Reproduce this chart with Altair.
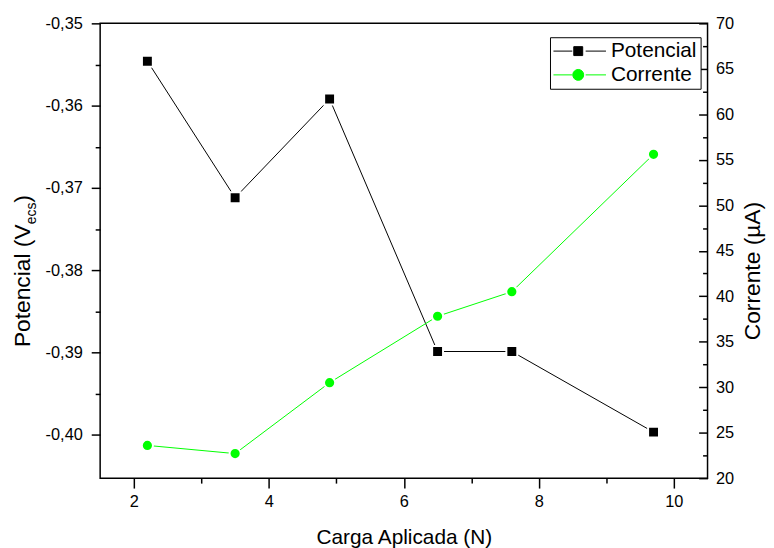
import altair as alt
import pandas as pd

# ---------------- data ----------------
carga = [2.2, 3.5, 4.9, 6.5, 7.6, 9.7]
potencial = [-0.3546, -0.3712, -0.3592, -0.3899, -0.3899, -0.3997]
corrente = [23.6, 22.7, 30.5, 37.8, 40.5, 55.6]

series = ["Potencial", "Corrente"]
series_colors = ["#000000", "#00ff00"]

x_ticks = [2, 4, 6, 8, 10]
x_minor = [3, 5, 7, 9]
pot_ticks = [-0.35, -0.36, -0.37, -0.38, -0.39, -0.40]
pot_minor = [-0.355, -0.365, -0.375, -0.385, -0.395]
cor_ticks = [20, 25, 30, 35, 40, 45, 50, 55, 60, 65, 70]
cor_minor = [22.5, 27.5, 32.5, 37.5, 42.5, 47.5, 52.5, 57.5, 62.5, 67.5]

x_title = "Carga Aplicada (N)"
left_title = ["Potencial (V", "ecs", ")"]
right_title = ["Corrente (µA)"]

# ---------------- layout ----------------
FONT = "Liberation Sans"
PW, PH = 613, 459
LEGEND_PATHS = [
    "M-1.05,0H0.85M2.2,0H4.25M1,-0.45H1.9V0.45H1Z",
    "M-1.05,0H0.85M2.2,0H4.25M0.9,0A0.55,0.55,0,1,0,2.0,0A0.55,0.55,0,1,0,0.9,0Z",
]

df = pd.DataFrame({"carga": carga, "potencial": potencial, "corrente": corrente})
base = alt.Chart(df)

x_scale = alt.Scale(domain=[1.5, 10.5], nice=False, zero=False)
yl_scale = alt.Scale(domain=[-0.4053, -0.35], nice=False, zero=False)
yr_scale = alt.Scale(domain=[20, 70], nice=False, zero=False)

AX = dict(grid=False, domain=False, labelFont=FONT, labelFontSize=16.5, labelColor="black",
          tickColor="black", tickWidth=1.5)

x_major = alt.X("carga:Q", scale=x_scale, axis=alt.Axis(
    orient="bottom", values=x_ticks, format="d", tickSize=10, labelPadding=6,
    title=x_title, titleFontSize=21, titlePadding=16, titleFont=FONT,
    titleFontWeight="normal", titleColor="black", **AX))
x_min = alt.X("carga:Q", scale=x_scale, axis=alt.Axis(
    orient="bottom", values=x_minor, tickSize=5, labels=False, title=None, **AX))
x_none = alt.X("carga:Q", scale=x_scale, axis=None)

yl_major = alt.Y("potencial:Q", scale=yl_scale, axis=alt.Axis(
    orient="left", values=pot_ticks, tickSize=9, labelPadding=9, title=None,
    labelExpr="'-' + replace(format(abs(datum.value), '.2f'), '.', ',')", **AX))
yl_min = alt.Y("potencial:Q", scale=yl_scale, axis=alt.Axis(
    orient="left", values=pot_minor, tickSize=5, labels=False, title=None, **AX))

yr_labels = alt.Y("corrente:Q", scale=yr_scale, axis=alt.Axis(
    orient="right", values=cor_ticks, format="d", ticks=False, labelPadding=8, title=None, **AX))
yr_major = alt.Y("corrente:Q", scale=yr_scale, axis=alt.Axis(
    orient="left", offset=-PW, values=cor_ticks, tickSize=9, labels=False, title=None, **AX))
yr_min = alt.Y("corrente:Q", scale=yr_scale, axis=alt.Axis(
    orient="left", offset=-PW, values=cor_minor, tickSize=5, labels=False, title=None, **AX))

pot_line = base.mark_line(color="black", strokeWidth=1).encode(x=x_major, y=yl_major)
pot_pts = base.mark_point(shape="square", filled=True, fill="black", stroke="white",
                          strokeWidth=2, size=121, opacity=1).encode(x=x_min, y=yl_min)

leg = alt.Legend(orient="none", legendX=454, legendY=14, title=None, direction="vertical",
                 symbolSize=400, symbolStrokeWidth=1, symbolOpacity=1,
                 labelFontSize=21, labelFont=FONT, labelColor="black", labelOffset=37,
                 labelLimit=400, padding=3.5, rowPadding=2, strokeColor="black",
                 fillColor="white", zindex=1)
leg_df = pd.DataFrame({"serie": series})
legend_layer = alt.Chart(leg_df).transform_filter("false").mark_point(
    size=400, opacity=1, strokeWidth=1, filled=True).encode(
    fill=alt.Fill("serie:N", scale=alt.Scale(domain=series, range=series_colors), legend=leg),
    stroke=alt.Stroke("serie:N", scale=alt.Scale(domain=series, range=series_colors), legend=leg),
    shape=alt.Shape("serie:N", scale=alt.Scale(domain=series, range=LEGEND_PATHS), legend=leg),
)

def text_piece(txt, x, y, size, align="left"):
    return alt.Chart(pd.DataFrame({"t": [txt]})).mark_text(
        font=FONT, fontSize=size, angle=270, align=align, baseline="alphabetic",
        color="black").encode(text="t:N", x=alt.value(x), y=alt.value(y))

lt_main = text_piece(left_title[0], -70.8, 326.75, 23)
lt_sub = text_piece(left_title[1], -64.3, 202.75, 14)
lt_end = text_piece(left_title[2], -70.8, 180.95, 23)
rt = text_piece(right_title[0], PW + 53, 250, 23, align="center")

left_group = alt.layer(pot_line, pot_pts, legend_layer, lt_main, lt_sub, lt_end).resolve_axis(
    x="independent", y="independent")

cor_line = base.mark_line(color="#00ff00", strokeWidth=1).encode(x=x_none, y=yr_labels)
cor_pts = base.mark_point(shape="circle", filled=True, fill="#00ff00", stroke="white",
                          strokeWidth=2, size=127, opacity=1).encode(x=x_none, y=yr_major)
cor_ghost = base.mark_line(opacity=0).encode(x=x_none, y=yr_min)

right_group = alt.layer(cor_line, cor_pts, cor_ghost, rt).resolve_axis(y="independent")

chart = alt.layer(left_group, right_group).resolve_scale(y="independent").properties(
    width=PW, height=PH,
    autosize=alt.AutoSizeParams(type="none"),
    padding={"left": 93, "top": 13, "right": 59, "bottom": 70},
    background="white",
).configure(font=FONT).configure_view(stroke="black", strokeWidth=1.5).configure_axis(
    grid=False, domain=False, labelFont=FONT, labelFontSize=16.5, labelColor="black",
    tickColor="black", tickWidth=1.5,
)

chart.save("out.html", embed_options={"renderer": "svg", "actions": False})
